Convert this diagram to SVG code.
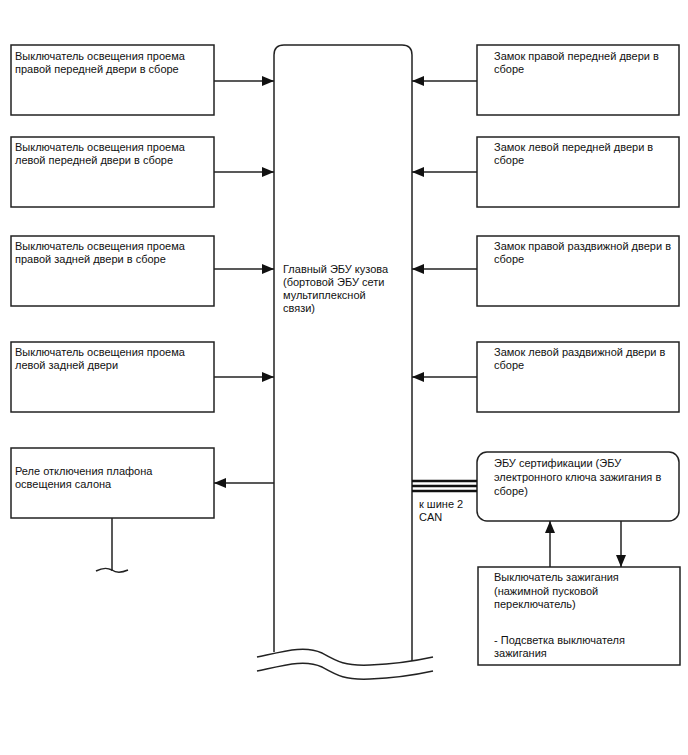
<svg xmlns="http://www.w3.org/2000/svg" width="688" height="755" viewBox="0 0 688 755">
<style>
.b{fill:#fff;stroke:#222;stroke-width:1.5}
.t{font-family:"Liberation Sans",Arial,sans-serif;font-size:11px;fill:#111}
.c{stroke:#222;stroke-width:1.5;fill:none}
</style>
<defs>
<marker id="ah" viewBox="0 0 12 10" refX="12" refY="5" markerWidth="12" markerHeight="10" markerUnits="userSpaceOnUse" orient="auto"><path d="M0,0 L12,5 L0,10 Z" fill="#111"/></marker>
</defs>
<rect width="688" height="755" fill="#fff"/>
<g id="main">
<path class="b" d="M274,652 L274,55 Q274,45 284,45 L402,45 Q412,45 412,55 L412,661"/>
<path class="c" d="M257,657 C285,651 305,645 322,653 C338,662 345,666 370,665 C395,664 415,661 433,657"/>
<path class="c" d="M257,671 C285,665 305,659 322,667 C338,676 345,680 370,679 C395,678 415,675 433,671"/>
<text class="t" x="283" y="273">Главный ЭБУ кузова</text>
<text class="t" x="283" y="286">(бортовой ЭБУ сети</text>
<text class="t" x="283" y="299">мультиплексной</text>
<text class="t" x="283" y="312">связи)</text>
</g>
<g id="l1"><rect class="b" x="11" y="45" width="203" height="70"/><text class="t" x="15" y="60">Выключатель освещения проема</text><text class="t" x="15" y="73">правой передней двери в сборе</text></g>
<g id="l2"><rect class="b" x="11" y="137" width="203" height="70"/><text class="t" x="15" y="151">Выключатель освещения проема</text><text class="t" x="15" y="164">левой передней двери в сборе</text></g>
<g id="l3"><rect class="b" x="11" y="236" width="203" height="70"/><text class="t" x="15" y="250">Выключатель освещения проема</text><text class="t" x="15" y="263">правой задней двери в сборе</text></g>
<g id="l4"><rect class="b" x="11" y="342" width="203" height="70"/><text class="t" x="15" y="356">Выключатель освещения проема</text><text class="t" x="15" y="369">левой задней двери</text></g>
<g id="relay"><rect class="b" x="11" y="448" width="203" height="70"/><text class="t" x="15" y="475">Реле отключения плафона</text><text class="t" x="15" y="488">освещения салона</text>
<path class="c" d="M112,518 L112,571"/><path class="c" d="M96,571 C104,567 108,568 112,570 C116,573 121,573 128,570"/></g>
<g id="r1"><rect class="b" x="477" y="45" width="202" height="70"/><text class="t" x="494" y="60">Замок правой передней двери в</text><text class="t" x="494" y="73">сборе</text></g>
<g id="r2"><rect class="b" x="477" y="137" width="202" height="70"/><text class="t" x="494" y="151">Замок левой передней двери в</text><text class="t" x="494" y="164">сборе</text></g>
<g id="r3"><rect class="b" x="477" y="236" width="202" height="70"/><text class="t" x="494" y="250">Замок правой раздвижной двери в</text><text class="t" x="494" y="263">сборе</text></g>
<g id="r4"><rect class="b" x="477" y="342" width="202" height="70"/><text class="t" x="494" y="356">Замок левой раздвижной двери в</text><text class="t" x="494" y="369">сборе</text></g>
<g id="cert"><rect class="b" x="477" y="452" width="202" height="69" rx="10"/><text class="t" x="494" y="467">ЭБУ сертификации (ЭБУ</text><text class="t" x="494" y="481">электронного ключа зажигания в</text><text class="t" x="494" y="495">сборе)</text></g>
<g id="ign"><rect class="b" x="478" y="567" width="202" height="98"/><text class="t" x="494" y="581">Выключатель зажигания</text><text class="t" x="494" y="595">(нажимной пусковой</text><text class="t" x="494" y="608">переключатель)</text><text class="t" x="494" y="644">- Подсветка выключателя</text><text class="t" x="494" y="657">зажигания</text></g>
<g id="connectors">
<line class="c" x1="214" y1="81" x2="274" y2="81" marker-end="url(#ah)"/>
<line class="c" x1="214" y1="172" x2="274" y2="172" marker-end="url(#ah)"/>
<line class="c" x1="214" y1="269" x2="274" y2="269" marker-end="url(#ah)"/>
<line class="c" x1="214" y1="377" x2="274" y2="377" marker-end="url(#ah)"/>
<line class="c" x1="274" y1="483" x2="214" y2="483" marker-end="url(#ah)"/>
<line class="c" x1="477" y1="81" x2="412" y2="81" marker-end="url(#ah)"/>
<line class="c" x1="477" y1="172" x2="412" y2="172" marker-end="url(#ah)"/>
<line class="c" x1="477" y1="269" x2="412" y2="269" marker-end="url(#ah)"/>
<line class="c" x1="477" y1="377" x2="412" y2="377" marker-end="url(#ah)"/>
<line class="c" x1="550" y1="567" x2="550" y2="521" marker-end="url(#ah)"/>
<line class="c" x1="621" y1="521" x2="621" y2="567" marker-end="url(#ah)"/>
<g stroke="#111" stroke-width="2.5"><line x1="412" y1="481" x2="477" y2="481"/><line x1="412" y1="486" x2="477" y2="486"/><line x1="412" y1="491" x2="477" y2="491"/></g>
<text class="t" x="419" y="508">к шине 2</text><text class="t" x="419" y="521">CAN</text>
</g>
</svg>
